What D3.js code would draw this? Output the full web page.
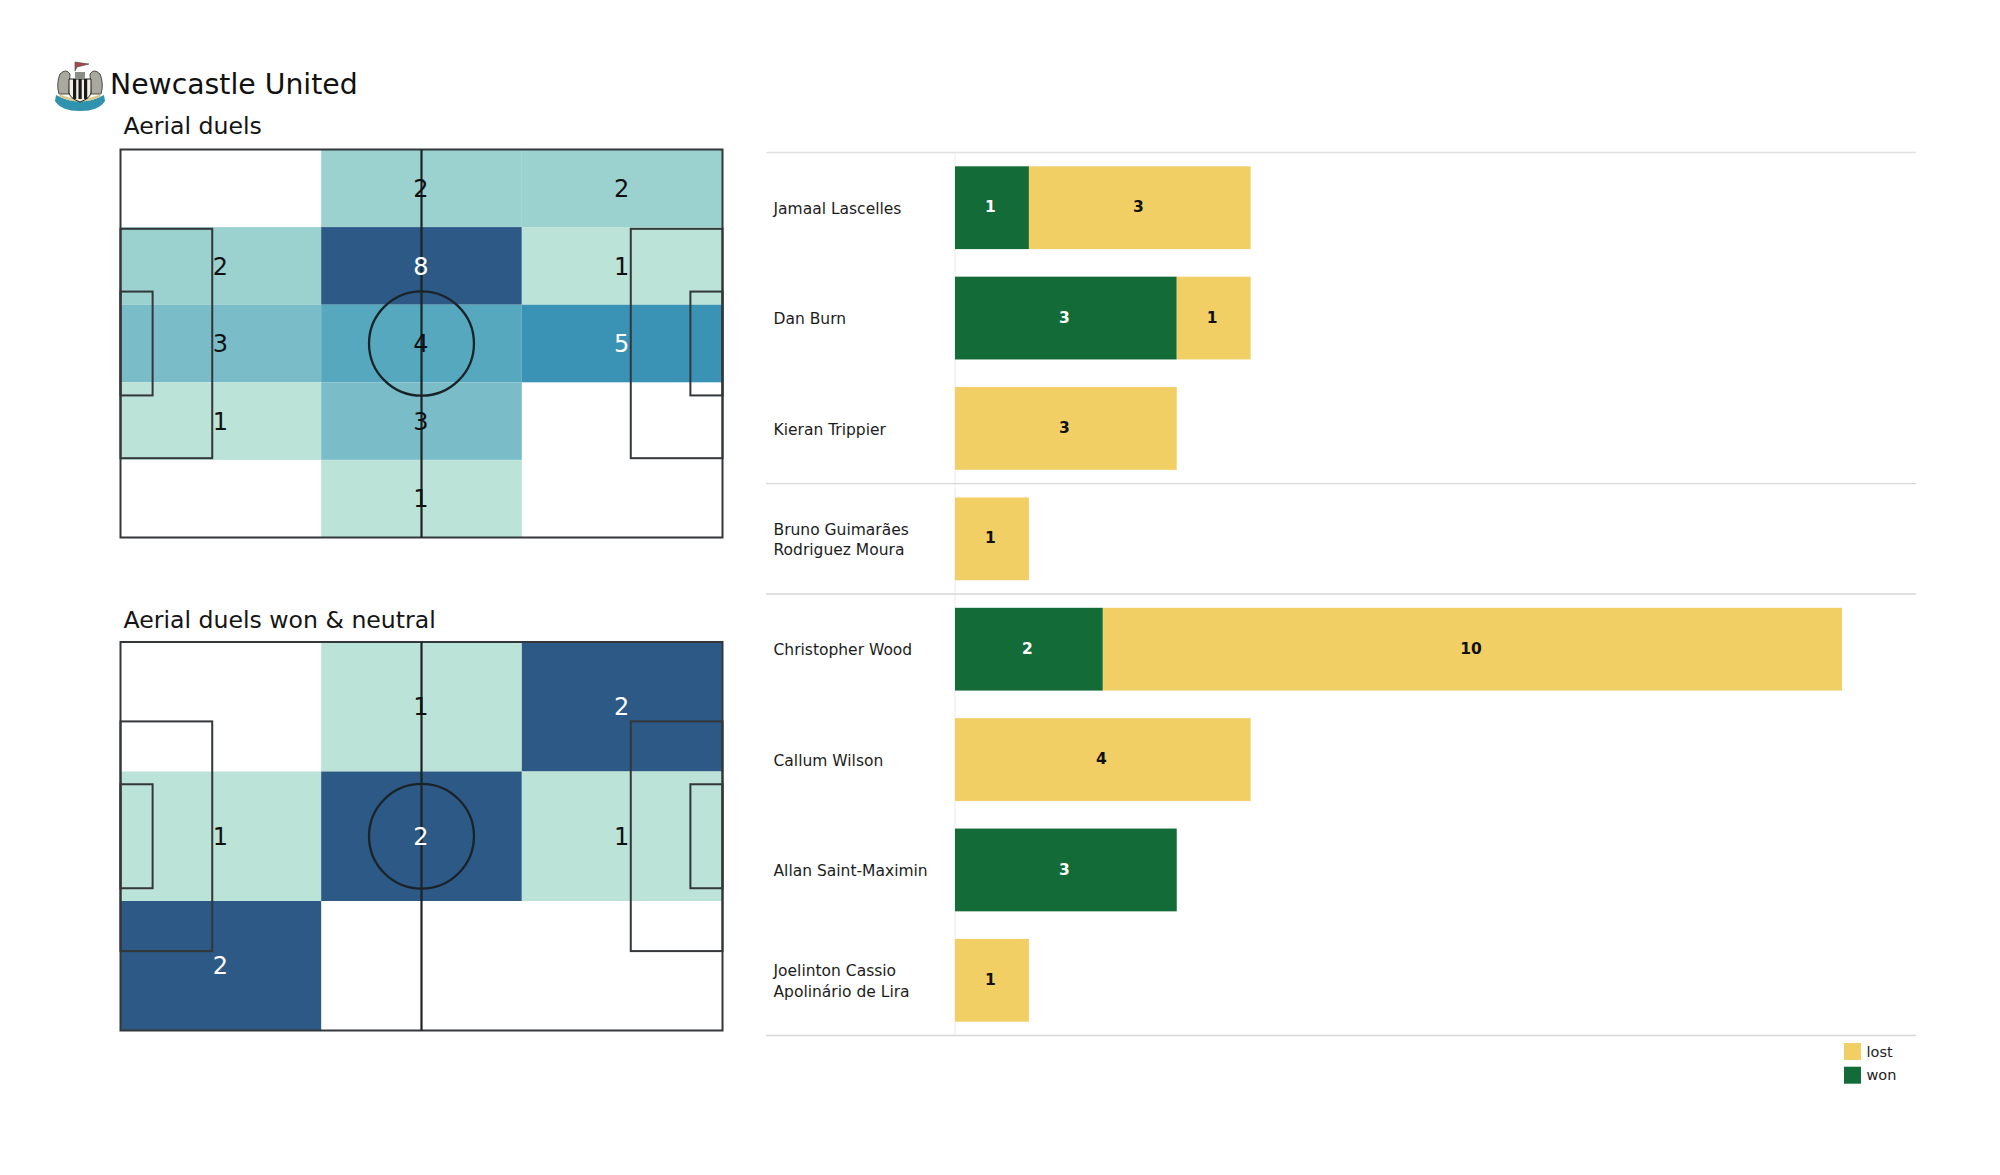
<!DOCTYPE html>
<html><head><meta charset="utf-8">
<script src="https://cdnjs.cloudflare.com/ajax/libs/d3/7.8.5/d3.min.js"></script>
<style>html,body{margin:0;background:#fff}svg{display:block}text{font-family:"DejaVu Sans",sans-serif}</style>
</head><body><svg id="c" width="2000" height="1175"></svg>
<script>
const teamName = "Newcastle United";
const heatTitles = ["Aerial duels", "Aerial duels won & neutral"];
const grid1 = [[0,2,2],[2,8,1],[3,4,5],[1,3,0],[0,1,0]];
const grid2 = [[0,1,2],[1,2,1],[2,0,0]];
const palette1 = new Map([[1,"#bce3d8"],[2,"#9bd1cf"],[3,"#7abdc9"],[4,"#56a8bf"],[5,"#3a93b4"],[8,"#2c5985"]]);
const palette2 = new Map([[1,"#bce3d8"],[2,"#2c5985"]]);
const darkValues1 = [5,8];
const darkValues2 = [2];

const players = [["Jamaal Lascelles"],["Dan Burn"],["Kieran Trippier"],["Bruno Guimarães","Rodriguez Moura"],["Christopher Wood"],["Callum Wilson"],["Allan Saint-Maximin"],["Joelinton Cassio","Apolinário de Lira"]];
const won  = [1,3,0,0,2,0,3,0];
const lost = [3,1,3,1,10,4,0,1];
const separators = [0,3,4,8];
const seriesNames = ["lost","won"];
const seriesColors = {lost:"#f2cf65", won:"#136c37"};

const svg = d3.select("#c");
const ink = "#33373a";

function drawHeat(grid, palette, dark, box, title, titleY){
  const g = svg.append("g");
  const x = d3.scaleLinear().domain([0,105]).range([box.l,box.r]);
  const y = d3.scaleLinear().domain([0,68]).range([box.t,box.b]);
  const cx = d3.scaleBand().domain(d3.range(3)).range([box.l,box.r]);
  const cy = d3.scaleBand().domain(d3.range(grid.length)).range([box.t,box.b]);
  g.append("text").attr("x",123.5).attr("y",titleY).attr("font-size",23.6).attr("fill","#151515").text(title);
  grid.forEach((row,r)=>row.forEach((v,c)=>{
    if(!v) return;
    g.append("rect").attr("x",cx(c)).attr("y",cy(r)).attr("width",cx.bandwidth()).attr("height",cy.bandwidth()).attr("fill",palette.get(v));
  }));
  const line = (a,b,c,d,w=2)=>g.append("path").attr("d",d3.line()([[x(a),y(b)],[x(c),y(d)]])).attr("stroke","#1f2326").attr("stroke-width",w).attr("fill","none");
  const rect = (a,b,c,d)=>g.append("rect").attr("x",x(a)).attr("y",y(b)).attr("width",x(c)-x(a)).attr("height",y(d)-y(b)).attr("fill","none").attr("stroke",ink).attr("stroke-width",2);
  rect(0,0,105,68);
  line(52.5,0,52.5,68,2.2);
  rect(0,13.9,16,54.1); rect(89,13.9,105,54.1);
  rect(0,24.9,5.6,43.1); rect(99.4,24.9,105,43.1);
  g.append("ellipse").attr("cx",x(52.5)).attr("cy",y(34)).attr("rx",x(9.15)-x(0)).attr("ry",y(9.15)-y(0)).attr("fill","none").attr("stroke","#1a2328").attr("stroke-width",2.3);
  grid.forEach((row,r)=>row.forEach((v,c)=>{
    if(!v) return;
    g.append("text").attr("x",cx(c)+cx.bandwidth()/2-0.5).attr("y",cy(r)+cy.bandwidth()/2).attr("dy","0.36em")
      .attr("text-anchor","middle").attr("font-size",24).attr("fill",dark.includes(v)?"#fff":"#111").text(v);
  }));
}
svg.append("text").attr("x",110).attr("y",94).attr("font-size",28.3).attr("fill","#111").text(teamName);
drawHeat(grid1,palette1,darkValues1,{l:120.5,r:722.5,t:149.5,b:537.5},heatTitles[0],134);
drawHeat(grid2,palette2,darkValues2,{l:120.5,r:722.5,t:642,b:1030.5},heatTitles[1],628);

// crest
const crest = svg.append("g").attr("transform","translate(80,86)");
crest.append("path").attr("d","M-24,9 Q0,22 24,9 L25,15 Q19,25 0,25 Q-19,25 -25,15Z").attr("fill","#2f93ad");
crest.append("path").attr("d","M-20,-12 Q-14,-18 -10,-12 L-11,8 L-21,8 Q-24,-2 -20,-12Z M20,-12 Q14,-18 10,-12 L11,8 L21,8 Q24,-2 20,-12Z").attr("fill","#a9a99f").attr("stroke","#4a4a42").attr("stroke-width",1);
crest.append("path").attr("d","M-21,8 Q0,17 21,8 L20,11 Q0,20 -20,11Z").attr("fill","#d8c98f");
crest.append("path").attr("d","M-11,-7 H11 V6 Q11,12 0,16 Q-11,12 -11,6Z").attr("fill","#f1efe6").attr("stroke","#26221c").attr("stroke-width",1);
[-7,-1.5,4].forEach(v=>crest.append("rect").attr("x",v).attr("y",-7).attr("width",3.2).attr("height",20).attr("fill","#1a1a1a"));
crest.append("rect").attr("x",-5).attr("y",-14).attr("width",10).attr("height",7).attr("fill","#8a8c86");
crest.append("path").attr("d","M-5,-15 L-5,-24 L9,-22 L-3,-19Z").attr("fill","#a8474c").attr("stroke","#444").attr("stroke-width",.6);

// bars
const x = d3.scaleLinear().domain([0,12]).range([955,1842]);
const y = d3.scaleBand().domain(d3.range(players.length)).range([152.5,1035.5]).paddingInner(0.25).paddingOuter(0.125);
const step = y.step();
const sepY = i => y(0) - y.step()*y.paddingOuter() + i*step;
const bars = svg.append("g");
bars.append("path").attr("d",d3.line()([[x(0),sepY(0)],[x(0),sepY(8)]])).attr("stroke","#eeeeee").attr("stroke-width",1.2);
separators.forEach(s=>bars.append("path").attr("d",d3.line()([[766,sepY(s)],[1916,sepY(s)]])).attr("stroke",s===0?"#e2e2e2":"#d6d6d6").attr("stroke-width",1.4));
players.forEach((p,i)=>{
  const yc = y(i)+y.bandwidth()/2;
  const t = bars.append("text").attr("font-size",15.5).attr("fill","#1c1c1c").attr("x",773.5);
  p.forEach((ln,k)=>t.append("tspan").attr("x",773.5).attr("y",yc+(k-(p.length-1)/2)*20.5+0.5).attr("dy","0.36em").text(ln));
  const seg = (a,b,name,color)=>{
    if(b===a) return;
    bars.append("rect").attr("x",x(a)).attr("y",y(i)).attr("width",x(b)-x(a)).attr("height",y.bandwidth()).attr("fill",seriesColors[name]);
    bars.append("text").attr("x",(x(a)+x(b))/2-1.5).attr("y",yc).attr("dy","0.3em").attr("text-anchor","middle").attr("font-size",15.5).attr("font-weight","bold").attr("fill",color).text(b-a);
  };
  seg(0,won[i],"won","#fff");
  seg(won[i],won[i]+lost[i],"lost","#111");
});
// legend
seriesNames.forEach((n,i)=>{
  const ly = 1043+i*23.7;
  svg.append("rect").attr("x",1844).attr("y",ly).attr("width",17).attr("height",17).attr("fill",seriesColors[n]);
  svg.append("text").attr("x",1866.5).attr("y",ly+8.5).attr("dy","0.36em").attr("font-size",14.5).attr("fill","#222").text(n);
});
</script></body></html>
